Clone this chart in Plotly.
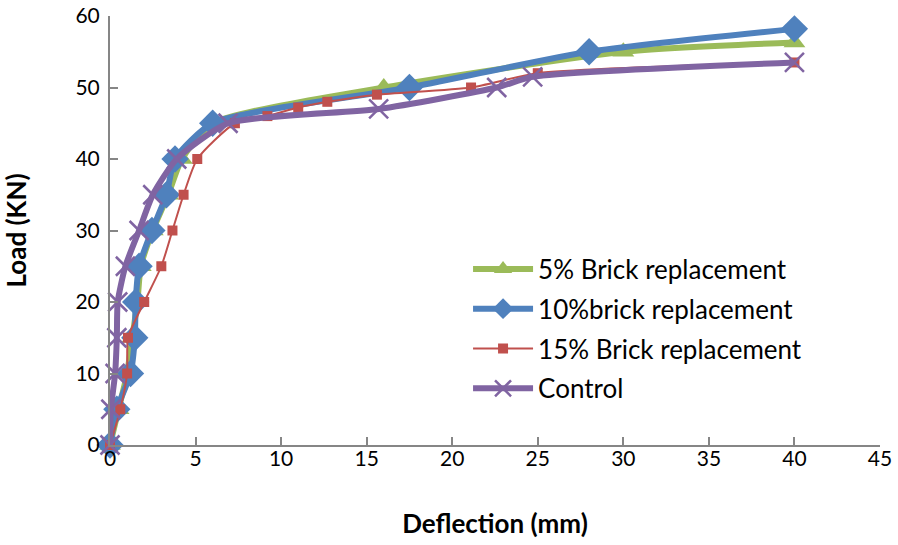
import plotly.graph_objects as go

# 5% Brick replacement
x5 = [0, 0.5, 1.0, 1.3, 1.6, 1.8, 2.5, 3.4, 4.2, 6.0, 16.0, 30.0, 40.0]
y5 = [0, 5, 10, 15, 20, 25, 30, 35, 40, 45, 50, 55, 56.3]
# 10% brick replacement
x10 = [0, 0.4, 1.2, 1.45, 1.5, 1.7, 2.45, 3.3, 3.8, 6.0, 17.5, 28.0, 40.0]
y10 = [0, 5, 10, 15, 20, 25, 30, 35, 40, 45, 50, 55, 58.2]
# 15% Brick replacement
x15 = [0, 0.6, 1.0, 1.05, 2.0, 3.0, 3.65, 4.3, 5.1, 7.3, 9.2, 11.0, 12.7, 15.6, 21.1, 25.0, 40.0]
y15 = [0, 5, 10, 15, 20, 25, 30, 35, 40, 45, 46, 47.2, 48, 49, 50, 52, 53.5]
# Control
xc = [0, 0.05, 0.3, 0.4, 0.45, 0.9, 1.7, 2.5, 3.9, 6.9, 15.7, 22.6, 24.7, 40.0]
yc = [0, 5, 10, 15, 20, 25, 30, 35, 40, 45, 47, 50, 51.5, 53.5]

names = ["5% Brick replacement", "10%brick replacement", "15% Brick replacement", "Control"]

fig = go.Figure()
fig.add_trace(go.Scatter(x=x5, y=y5, name=names[0], legendgroup="a", mode="lines+markers",
                         line=dict(color="#9BBB59", width=6, shape="spline", smoothing=0.6),
                         marker=dict(symbol="triangle-up", size=19, color="#9BBB59"),
                         cliponaxis=False))
fig.add_trace(go.Scatter(x=x10, y=y10, name=names[1], legendgroup="b", mode="lines+markers",
                         line=dict(color="#4F81BD", width=6, shape="spline", smoothing=0.6),
                         marker=dict(symbol="diamond", size=21, color="#4F81BD"),
                         cliponaxis=False))
fig.add_trace(go.Scatter(x=x15, y=y15, name=names[2], legendgroup="c", mode="lines+markers",
                         line=dict(color="#C0504D", width=2, shape="spline", smoothing=0.6),
                         marker=dict(symbol="square", size=10, color="#C0504D"),
                         cliponaxis=False))
fig.add_trace(go.Scatter(x=xc, y=yc, name=names[3], legendgroup="d", mode="lines+markers",
                         line=dict(color="#8064A2", width=6, shape="spline", smoothing=0.6),
                         marker=dict(symbol="x-thin", size=19, color="#8064A2",
                                     line=dict(color="#8064A2", width=2.5)),
                         cliponaxis=False))

fig.update_layout(
    width=898, height=545,
    margin=dict(l=110, r=18, t=16, b=100, autoexpand=False),
    paper_bgcolor="white", plot_bgcolor="white",
    font=dict(family="Lato, Noto Sans, sans-serif", size=21, color="black"),
    showlegend=True,
    legend=dict(x=0.465, y=0.465, xanchor="left", yanchor="top",
                font=dict(size=26), itemwidth=60, tracegroupgap=3,
                bgcolor="rgba(0,0,0,0)"),
    xaxis=dict(range=[0, 45], dtick=5, showgrid=False, zeroline=False,
               showline=True, linecolor="#868686", linewidth=2,
               ticks="inside", ticklen=8, tickcolor="#868686", tickwidth=2,
               ticklabelstandoff=-6, ticklabeloverflow="allow", automargin=False,
               title=dict(text="<b>Deflection (mm)</b>", standoff=46, font=dict(size=26))),
    yaxis=dict(range=[0, 60], dtick=10, showgrid=False, zeroline=False,
               showline=True, linecolor="#868686", linewidth=2,
               ticks="inside", ticklen=8, tickcolor="#868686", tickwidth=2,
               ticklabelstandoff=4, ticklabeloverflow="allow", automargin=False,
               title=dict(text="<b>Load (KN)</b>", standoff=48, font=dict(size=26))),
)

fig.write_html("out.html", config={"displayModeBar": False},
               post_script="document.body.style.margin='0px';")
